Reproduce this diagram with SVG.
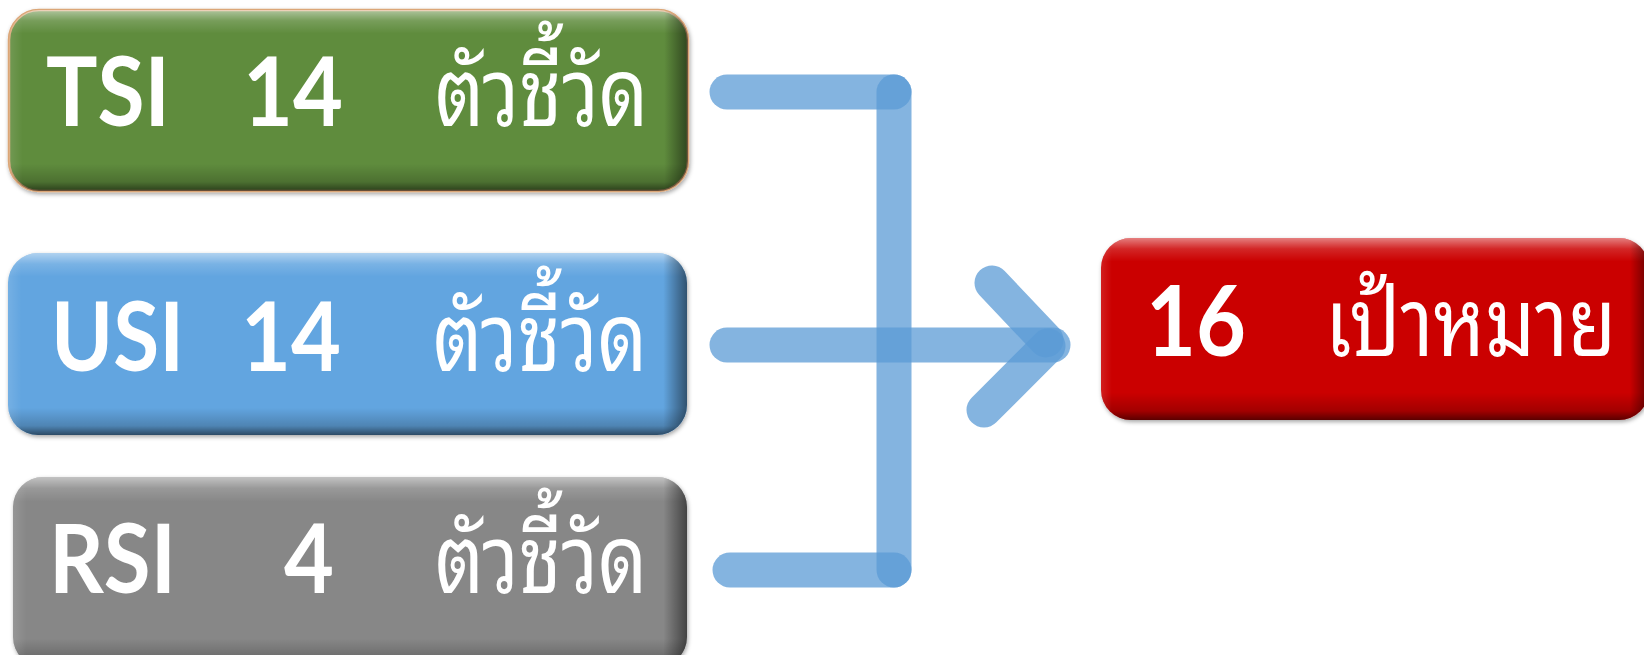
<svg xmlns="http://www.w3.org/2000/svg" width="1644" height="655" viewBox="0 0 1644 655">
<defs>
  <linearGradient id="bevelV" x1="0" y1="0" x2="0" y2="1">
    <stop offset="0" stop-color="#fff" stop-opacity="0.5"/>
    <stop offset="0.06" stop-color="#fff" stop-opacity="0.15"/>
    <stop offset="0.13" stop-color="#fff" stop-opacity="0"/>
    <stop offset="0.85" stop-color="#000" stop-opacity="0"/>
    <stop offset="0.95" stop-color="#000" stop-opacity="0.2"/>
    <stop offset="1" stop-color="#000" stop-opacity="0.55"/>
  </linearGradient>
  <linearGradient id="bevelH" x1="0" y1="0" x2="1" y2="0">
    <stop offset="0" stop-color="#fff" stop-opacity="0.12"/>
    <stop offset="0.02" stop-color="#fff" stop-opacity="0"/>
    <stop offset="0.965" stop-color="#000" stop-opacity="0"/>
    <stop offset="1" stop-color="#000" stop-opacity="0.5"/>
  </linearGradient>
  <filter id="shadow" x="-5%" y="-10%" width="110%" height="125%">
    <feDropShadow dx="1" dy="2" stdDeviation="2" flood-color="#000" flood-opacity="0.35"/>
  </filter>
</defs>
<style>
  .box { filter: url(#shadow); }
  .hv { fill: url(#bevelV); }
  .hh { fill: url(#bevelH); }
  .lat { font-family: "Lato", "Open Sans", "Liberation Sans", sans-serif; font-weight: 700; fill: #fff; }
  .th { font-family: "Noto Sans Thai Looped", "Tahoma", "Loma", "Garuda", "Noto Sans Thai", "Noto Sans", "DejaVu Sans", sans-serif; font-weight: 400; fill: #fff; }
  .conn line { stroke: #5b9bd5; stroke-opacity: 0.75; stroke-width: 35; stroke-linecap: round; fill: none; }
</style>

<g id="node-tsi">
  <rect class="box" x="9" y="10" width="679" height="181" rx="30" fill="#5e8c3e" stroke="#dba677" stroke-width="2.5"/>
  <rect class="hv" x="9" y="10" width="679" height="181" rx="30"/>
  <rect class="hh" x="9" y="10" width="679" height="181" rx="30"/>
  <text class="lat" x="46" y="126" font-size="95" textLength="124" lengthAdjust="spacingAndGlyphs">TSI</text>
  <text class="lat" x="243" y="126" font-size="95" textLength="100" lengthAdjust="spacingAndGlyphs">14</text>
  <text class="th" x="435" y="126" font-size="96" textLength="213" lengthAdjust="spacingAndGlyphs">ตัวชี้วัด</text>
</g>

<g id="node-usi">
  <rect class="box" x="8" y="253" width="679" height="182" rx="30" fill="#62a5e0"/>
  <rect class="hv" x="8" y="253" width="679" height="182" rx="30"/>
  <rect class="hh" x="8" y="253" width="679" height="182" rx="30"/>
  <text class="lat" x="51" y="371" font-size="95" textLength="133" lengthAdjust="spacingAndGlyphs">USI</text>
  <text class="lat" x="241" y="371" font-size="95" textLength="100" lengthAdjust="spacingAndGlyphs">14</text>
  <text class="th" x="433" y="371" font-size="96" textLength="214" lengthAdjust="spacingAndGlyphs">ตัวชี้วัด</text>
</g>

<g id="node-rsi">
  <rect class="box" x="13" y="477" width="674" height="190" rx="30" fill="#878787"/>
  <rect class="hv" x="13" y="477" width="674" height="190" rx="30"/>
  <rect class="hh" x="13" y="477" width="674" height="190" rx="30"/>
  <text class="lat" x="49" y="593" font-size="95" textLength="127" lengthAdjust="spacingAndGlyphs">RSI</text>
  <text class="lat" x="284" y="593" font-size="95" textLength="50" lengthAdjust="spacingAndGlyphs">4</text>
  <text class="th" x="435" y="593" font-size="96" textLength="212" lengthAdjust="spacingAndGlyphs">ตัวชี้วัด</text>
</g>

<g id="node-target">
  <rect class="box" x="1101" y="238" width="548" height="182" rx="30" fill="#cb0606"/>
  <rect class="hv" x="1101" y="238" width="548" height="182" rx="30"/>
  <rect class="hh" x="1101" y="238" width="548" height="182" rx="30"/>
  <text class="lat" x="1146" y="356" font-size="97" textLength="100" lengthAdjust="spacingAndGlyphs">16</text>
  <text class="th" x="1325" y="356" font-size="96" textLength="291" lengthAdjust="spacingAndGlyphs">เป้าหมาย</text>
</g>

<g id="connectors" class="conn">
  <line x1="727" y1="92" x2="894" y2="92"/>
  <line x1="894" y1="92" x2="894" y2="570"/>
  <line x1="730" y1="570" x2="894" y2="570"/>
  <line x1="727" y1="345" x2="1053" y2="345"/>
  <line x1="992" y1="283" x2="1046" y2="340"/>
  <line x1="984" y1="410" x2="1048" y2="346"/>
</g>
</svg>
